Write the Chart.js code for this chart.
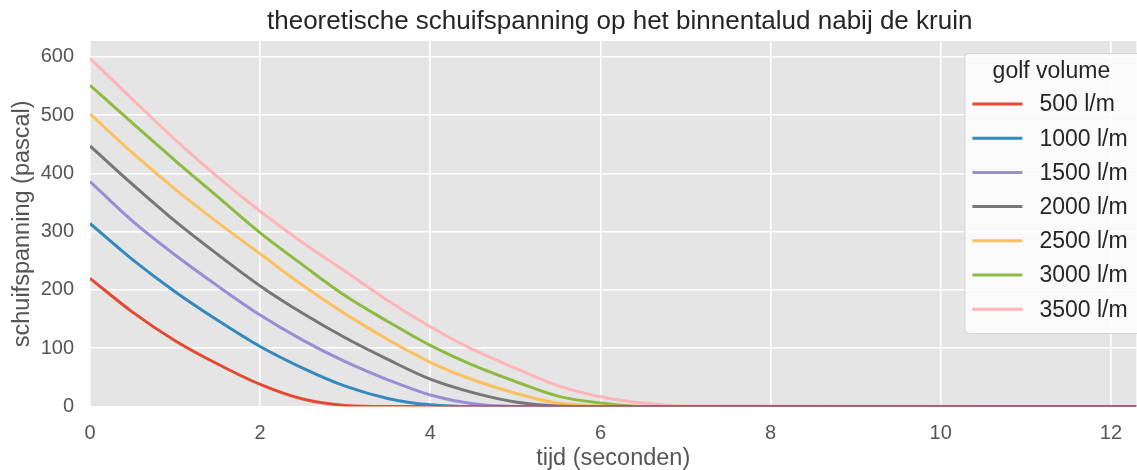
<!DOCTYPE html>
<html>
<head>
<meta charset="utf-8">
<script src="https://cdn.jsdelivr.net/npm/chart.js@4"></script>
<style>
  html, body { margin: 0; padding: 0; background: #fff; }
  #wrap { width: 1137px; height: 470px; position: relative; }
</style>
</head>
<body>
<div id="wrap"><canvas id="schuif"></canvas></div>
<script>
// tijd in seconden
const tijd = [0, 0.5, 1, 1.5, 2, 2.5, 3, 3.5, 4, 4.5, 5, 5.5, 6, 6.5, 7, 12.3]

// schuifspanning (pascal) per golfvolume
const v500  = [220, 162, 113, 73, 38, 13, 2, 0, 0, 0, 0, 0, 0, 0, 0, 0]
const v1000 = [314, 252, 197, 148, 103, 66, 35, 14, 3, 0, 0, 0, 0, 0, 0, 0]
const v1500 = [386, 318, 260, 207, 157, 114, 77, 46, 20, 5, 0, 0, 0, 0, 0, 0]
const v2000 = [447, 381, 318, 261, 207, 160, 118, 81, 47, 24, 8, 1, 0, 0, 0, 0]
const v2500 = [502, 435, 373, 316, 262, 208, 159, 115, 76, 46, 23, 6, 1, 0, 0, 0]
const v3000 = [551, 486, 422, 360, 298, 243, 190, 146, 105, 71, 43, 18, 6, 0, 0, 0]
const v3500 = [597, 527, 458, 394, 335, 281, 232, 182, 137, 98, 66, 36, 17, 6, 1, 0]

const labels = ['500 l/m', '1000 l/m', '1500 l/m', '2000 l/m', '2500 l/m', '3000 l/m', '3500 l/m']
const series = [v500, v1000, v1500, v2000, v2500, v3000, v3500]
const colors = ['#E24A33', '#348ABD', '#988ED5', '#777777', '#FBC15E', '#8EBA42', '#FFB5B8']

const xTicks = [0, 2, 4, 6, 8, 10, 12]
const yTicks = [0, 100, 200, 300, 400, 500, 600]

const titel = 'theoretische schuifspanning op het binnentalud nabij de kruin'
const FONT = '"Liberation Sans", Arial, sans-serif'

// grijze plotachtergrond
const plotBg = {
	id: 'plotBg',
	beforeDraw(chart) {
		const { ctx, chartArea: a } = chart
		ctx.save()
		ctx.fillStyle = '#E5E5E5'
		ctx.fillRect(a.left, a.top, a.right - a.left, a.bottom - a.top)
		ctx.restore()
	}
}

// titel boven het plotvlak (de assen lopen rechts iets door buiten beeld)
const plotTitle = {
	id: 'plotTitle',
	afterDraw(chart) {
		const { ctx, chartArea: a } = chart
		ctx.save()
		ctx.fillStyle = '#262626'
		ctx.font = '26px ' + FONT
		ctx.textAlign = 'center'
		ctx.textBaseline = 'middle'
		ctx.fillText(titel, (a.left + a.right + 13) / 2, 22)
		ctx.restore()
	}
}

// legenda rechtsboven in het plotvlak
const boxLegend = {
	id: 'boxLegend',
	afterDatasetsDraw(chart) {
		const { ctx, chartArea: a } = chart
		const x = a.right - 172, y = a.top + 12
		const w = 190, h = 280
		ctx.save()
		ctx.fillStyle = 'rgba(255,255,255,0.8)'
		ctx.strokeStyle = 'rgba(204,204,204,0.8)'
		ctx.lineWidth = 1
		ctx.beginPath()
		ctx.roundRect(x + 0.5, y + 0.5, w, h, 4)
		ctx.fill()
		ctx.stroke()
		ctx.fillStyle = '#262626'
		ctx.font = '23px ' + FONT
		ctx.textBaseline = 'middle'
		ctx.textAlign = 'center'
		ctx.fillText('golf volume', x + 87, y + 19)
		ctx.textAlign = 'left'
		chart.data.datasets.forEach((ds, i) => {
			const cy = y + 51 + i * 34.2
			ctx.strokeStyle = ds.borderColor
			ctx.lineWidth = 3
			ctx.beginPath()
			ctx.moveTo(x + 8, cy)
			ctx.lineTo(x + 58, cy)
			ctx.stroke()
			ctx.fillStyle = '#262626'
			ctx.fillText(ds.label, x + 75, cy + 1)
		})
		ctx.restore()
	}
}

const chart = new Chart(document.getElementById('schuif'), {
	type: 'line',
	data: {
		datasets: series.map((vals, i) => ({
			label: labels[i],
			data: tijd.map((t, j) => ({ x: t, y: vals[j] })),
			borderColor: colors[i],
			backgroundColor: colors[i],
			borderWidth: 3,
			pointRadius: 0,
			cubicInterpolationMode: 'monotone',
			fill: false
		}))
	},
	options: {
		responsive: true,
		maintainAspectRatio: false,
		animation: false,
		layout: { padding: { top: 41, left: 0, right: 0, bottom: 0 } },
		plugins: {
			legend: { display: false },
			tooltip: { enabled: false },
			title: { display: false }
		},
		scales: {
			x: {
				type: 'linear',
				min: 0,
				max: 12.3,
				afterBuildTicks: s => { s.ticks = xTicks.map(v => ({ value: v })) },
				afterFit: s => { s.height = 63.4 },
				ticks: { color: '#555555', font: { family: FONT, size: 20 }, padding: 15, includeBounds: false },
				grid: { color: '#FFFFFF', lineWidth: 1.6, drawTicks: false },
				border: { display: false },
				title: {
					display: true,
					text: 'tijd (seconden)',
					color: '#555555',
					font: { family: FONT, size: 23.5, lineHeight: 1 },
					padding: { top: 0, bottom: 0 }
				}
			},
			y: {
				min: 0,
				max: 627,
				afterBuildTicks: s => { s.ticks = yTicks.map(v => ({ value: v })) },
				afterFit: s => { s.width = 90 },
				ticks: { color: '#555555', font: { family: FONT, size: 20 }, padding: 16, includeBounds: false },
				grid: { color: '#FFFFFF', lineWidth: 1.6, drawTicks: false },
				border: { display: false },
				title: {
					display: true,
					text: 'schuifspanning (pascal)',
					color: '#555555',
					font: { family: FONT, size: 23.5, lineHeight: 1 },
					padding: { top: 10.5, bottom: 0 }
				}
			}
		}
	},
	plugins: [plotBg, plotTitle, boxLegend]
})
</script>
</body>
</html>
